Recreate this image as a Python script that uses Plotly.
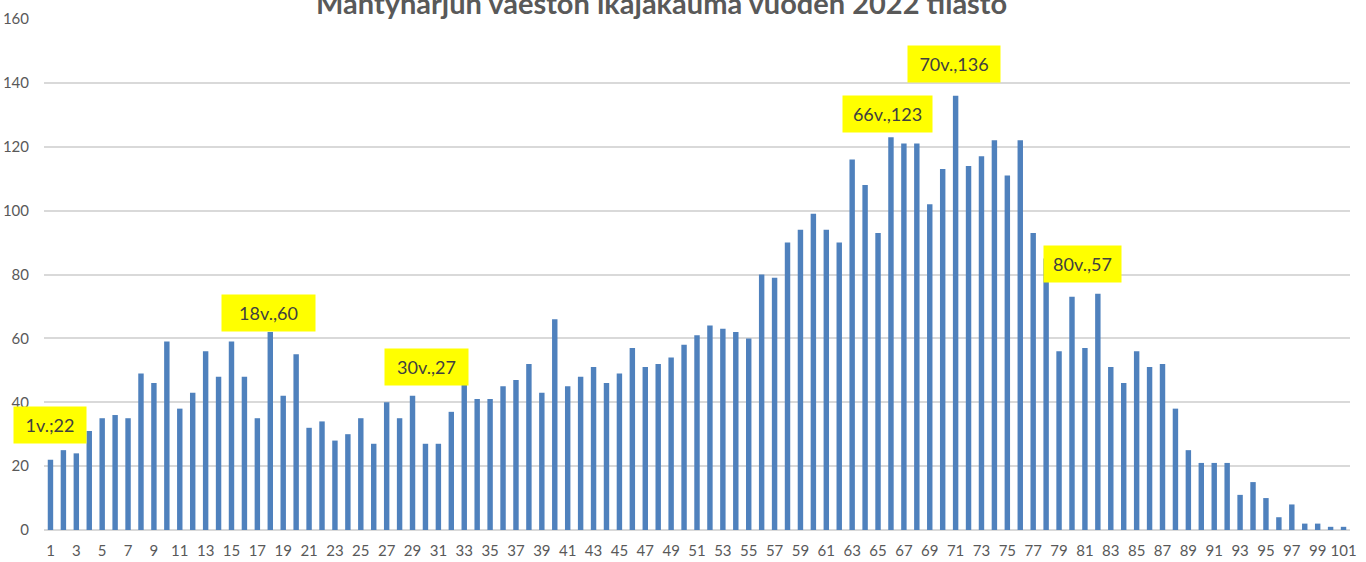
import plotly.graph_objects as go

ages = list(range(1, 102))
counts = [
    22, 25, 24, 31, 35, 36, 35, 49, 46, 59,
    38, 43, 56, 48, 59, 48, 35, 62, 42, 55,
    32, 34, 28, 30, 35, 27, 40, 35, 42, 27,
    27, 37, 46, 41, 41, 45, 47, 52, 43, 66,
    45, 48, 51, 46, 49, 57, 51, 52, 54, 58,
    61, 64, 63, 62, 60, 80, 79, 90, 94, 99,
    94, 90, 116, 108, 93, 123, 121, 121, 102, 113,
    136, 114, 117, 122, 111, 122, 93, 85, 56, 73,
    57, 74, 51, 46, 56, 51, 52, 38, 25, 21,
    21, 21, 11, 15, 10, 4, 8, 2, 2, 1,
    1,
]
tick_ages = list(range(1, 102, 2))

# yellow callouts: text, x (age position), y (value position)
callout_text = ["1v.;22", "18v.,60", "30v.,27", "66v.,123", "70v.,136", "80v.,57"]
callout_x = [1.0, 17.9, 30.1, 65.7, 70.9, 80.85]
callout_y = [32.9, 68.0, 51.0, 130.1, 145.9, 83.3]
callout_w = [70, 91, 81, 87, 90, 75]

title = "Mäntyharjun väestön ikäjakauma vuoden 2022 tilasto"

FONT = "Lato"
GREY = "#595959"

fig = go.Figure()
fig.add_trace(go.Bar(
    x=ages,
    y=counts,
    marker=dict(color="#4f81bd", line=dict(width=0)),
    hoverinfo="x+y",
))

for t, cx, cy, w in zip(callout_text, callout_x, callout_y, callout_w):
    fig.add_annotation(
        x=cx, y=cy, xref="x", yref="y",
        text=t, showarrow=False,
        font=dict(family=FONT, size=18, color="#404040"),
        bgcolor="#ffff00",
        width=w, height=34,
        xanchor="center", yanchor="middle",
    )

# title sits partly above the page edge, as in the original
fig.add_annotation(
    x=0.473, y=1, xref="paper", yref="paper",
    text="<b>" + title + "</b>", showarrow=False,
    font=dict(family=FONT, size=29, color=GREY),
    xanchor="center", yanchor="bottom", yshift=-3,
)

fig.update_layout(
    width=1366, height=562,
    margin=dict(l=44, r=16, t=19, b=32),
    paper_bgcolor="white",
    plot_bgcolor="white",
    bargap=0.58,
    showlegend=False,
    font=dict(family=FONT, color=GREY, size=15),
)

fig.update_xaxes(
    range=[0.5, 101.5],
    tickmode="array",
    tickvals=tick_ages,
    ticktext=[str(a) for a in tick_ages],
    tickangle=0,
    showgrid=False,
    showline=False,
    ticks="",
    ticklabelstandoff=10,
    automargin=False,
    tickfont=dict(family=FONT, size=15, color=GREY),
)

fig.update_yaxes(
    range=[0, 160],
    dtick=20,
    showgrid=True,
    gridcolor="#d9d9d9",
    gridwidth=2,
    zeroline=True,
    zerolinecolor="#d9d9d9",
    zerolinewidth=2,
    showline=False,
    ticks="",
    ticklabelstandoff=14,
    automargin=False,
    tickfont=dict(family=FONT, size=15, color=GREY),
)

# drop the browser's default body margin so the figure fills the window
fig.write_html(
    "out.html",
    config={"displayModeBar": False},
    post_script="document.body.style.margin='0';",
)
